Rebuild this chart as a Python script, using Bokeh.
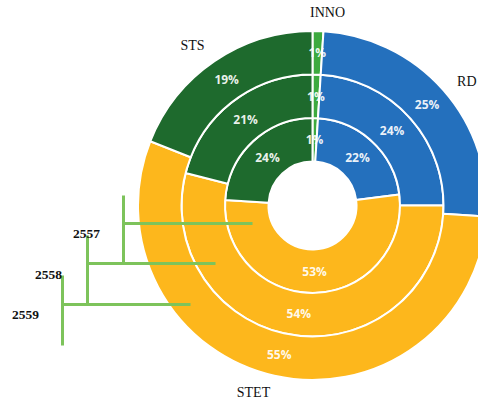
import math
from bokeh.plotting import figure
from bokeh.models import Range1d, ColumnDataSource
from bokeh.core.properties import value
from bokeh.embed import file_html
from bokeh.resources import INLINE

# ---- data ----
categories = ["INNO", "RD", "STET", "STS"]
years = ["2557", "2558", "2559"]          # inner -> outer ring
share_2557 = [1, 22, 53, 24]
share_2558 = [1, 24, 54, 21]
share_2559 = [1, 25, 55, 19]
colors = ["#3DAA3F", "#2470BD", "#FDB71C", "#1E6A2D"]

W, H = 478, 402
p = figure(width=W, height=H, output_backend="svg", toolbar_location=None,
           x_range=Range1d(0, W), y_range=Range1d(0, H),
           min_border=0, x_axis_location=None, y_axis_location=None)
p.grid.visible = False
p.outline_line_color = None
p.background_fill_color = "white"

cx, cy = 312, H - 205
hole = 44
ring_w = 43.5

def Y(ypix):
    return H - ypix

rings = [share_2557, share_2558, share_2559]
wx, wy, wi, wo, ws, we, wc = [], [], [], [], [], [], []
lx, ly, lt = [], [], []
for i, vals in enumerate(rings):
    r_in = hole + i * ring_w
    r_out = r_in + ring_w
    total = float(sum(vals))
    cum = 0.0
    for v, c in zip(vals, colors):
        a0 = math.pi / 2 - 2 * math.pi * cum / total
        a1 = math.pi / 2 - 2 * math.pi * (cum + v) / total
        wx.append(cx); wy.append(cy); wi.append(r_in); wo.append(r_out)
        ws.append(a0); we.append(a1); wc.append(c)
        mid = (a0 + a1) / 2
        rm = (r_in + r_out) / 2
        lx.append(cx + rm * math.cos(mid))
        ly.append(cy + rm * math.sin(mid))
        lt.append(f"{v}%")
        cum += v

src = ColumnDataSource(dict(x=wx, y=wy, ri=wi, ro=wo, s=ws, e=we, c=wc))
p.annular_wedge(x="x", y="y", inner_radius="ri", outer_radius="ro",
                start_angle="s", end_angle="e", direction="clock",
                fill_color="c", line_color="white", line_width=2, source=src)

p.text(x=lx, y=ly, text=lt, text_color="white", text_font=value("Open Sans"),
       text_font_style="bold", text_font_size="12px", text_align="center",
       text_baseline="middle", text_alpha=0.92)

# category labels
cat_pos = {"INNO": (327, 12), "RD": (476, 81), "STET": (253, 392), "STS": (192, 45)}
cat_align = {"INNO": "center", "RD": "right", "STET": "center", "STS": "center"}
for cat in categories:
    x0, y0 = cat_pos[cat]
    p.text(x=[x0], y=[Y(y0)], text=[cat], text_color="#111111",
           text_font=value("Liberation Serif"), text_font_size="14px",
           text_align=cat_align[cat], text_baseline="middle")

# year bracket annotations
g = "#7DC35B"
brackets = [  # (vertical x, v top, v bottom, horiz y, horiz end x)
    (123, 195, 263, 223, 252),
    (87, 235, 303, 263, 215),
    (62, 275, 345, 304, 190),
]
for vx, vt, vb, hy, hx in brackets:
    p.line([vx, vx], [Y(vt), Y(vb)], line_color=g, line_width=3)
    p.line([vx, hx], [Y(hy), Y(hy)], line_color=g, line_width=3)

year_pos = [(86, 233), (48, 274), (25, 314)]
for yr, (x0, y0) in zip(years, year_pos):
    p.text(x=[x0], y=[Y(y0)], text=[yr], text_color="#111111",
           text_font=value("Liberation Serif"), text_font_style="bold",
           text_font_size="13.5px", text_align="center", text_baseline="middle")

open("out.html", "w").write(file_html(p, INLINE))
